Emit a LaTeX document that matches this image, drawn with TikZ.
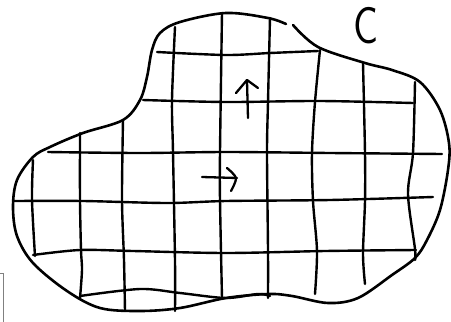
\documentclass[tikz,border=0pt]{standalone}
\tikzset{
  ink/.style={line width=2.6pt, line cap=round, line join=round, black},
  gridln/.style={line width=2.4pt, line cap=round, line join=round, black},
  arrowln/.style={line width=2.3pt, line cap=round, line join=round, black},
}
\begin{document}
\begin{tikzpicture}[x=1pt,y=-1pt]
\useasboundingbox (0,0) rectangle (451,322);
% outline (open at the top)
\draw[ink] plot[smooth, tension=0.55] coordinates {
 (293,25) (318,47) (365,63) (392,70) (420,82) (440,110) (449,143) (448,170)
 (440,210) (427,240) (415,258) (392,275) (358,298) (328,303) (292,296) (268,294)
 (226,298) (180,308) (140,311) (100,308) (67,291) (33,263) (17,236) (13,207)
 (17,180) (33,157) (50,147) (83,133) (123,120) (140,100) (147,77) (152,50)
 (160,33) (180,22) (226,13) (268,18) (286,24)};
% horizontal grid lines
\draw[gridln] plot[smooth] coordinates {(157,52) (226,55) (270,53) (318,51)};
\draw[gridln] plot[smooth] coordinates {(143,100) (226,102) (320,101) (413,103)};
\draw[gridln] plot[smooth] coordinates {(48,152) (140,153) (226,152) (330,153) (442,154)};
\draw[gridln] plot[smooth] coordinates {(13,201) (83,201) (167,203) (226,201) (330,200) (433,197)};
\draw[gridln] plot[smooth] coordinates {(33,255) (80,250) (133,251) (226,253) (325,251) (416,250)};
\draw[gridln] plot[smooth] coordinates {(80,296) (140,289) (180,293) (226,298) (258,294) (270,296)};
% vertical grid lines
\draw[gridln] plot[smooth] coordinates {(33,160) (32,200) (35,256)};
\draw[gridln] plot[smooth] coordinates {(80,133) (80,200) (81,250) (82,270) (80,298)};
\draw[gridln] plot[smooth] coordinates {(123,120) (122,200) (124,260) (125,311)};
\draw[gridln] plot[smooth] coordinates {(175,27) (172,100) (173,152) (175,261) (175,311)};
\draw[gridln] plot[smooth] coordinates {(222,13) (220,152) (220,200) (222,298)};
\draw[gridln] plot[smooth] coordinates {(270,18) (268,102) (267,153) (268,250) (268,298)};
\draw[gridln] plot[smooth] coordinates {(320,50) (315,102) (312,153) (313,201) (317,251) (315,294)};
\draw[gridln] plot[smooth] coordinates {(363,63) (365,153) (365,201) (363,254) (365,284)};
\draw[gridln] plot[smooth] coordinates {(415,82) (413,153) (408,194) (415,249) (415,260)};
% arrows
\draw[arrowln] (248,118) -- (247,81);
\draw[arrowln] (236,93) -- (247,80) -- (258,88);
\draw[arrowln] (202,177) -- (237,178);
\draw[arrowln] plot[smooth] coordinates {(227,168) (236,178) (231,191)};
% label
\node[inner sep=0pt, font=\fontsize{52}{52}\selectfont\sffamily, xscale=0.8] (lblC) at (366,26) {C};
% corner mark
\draw[gray, line width=0.8pt] (0,273) -- (3,273) -- (3,322);
\end{tikzpicture}
\end{document}
